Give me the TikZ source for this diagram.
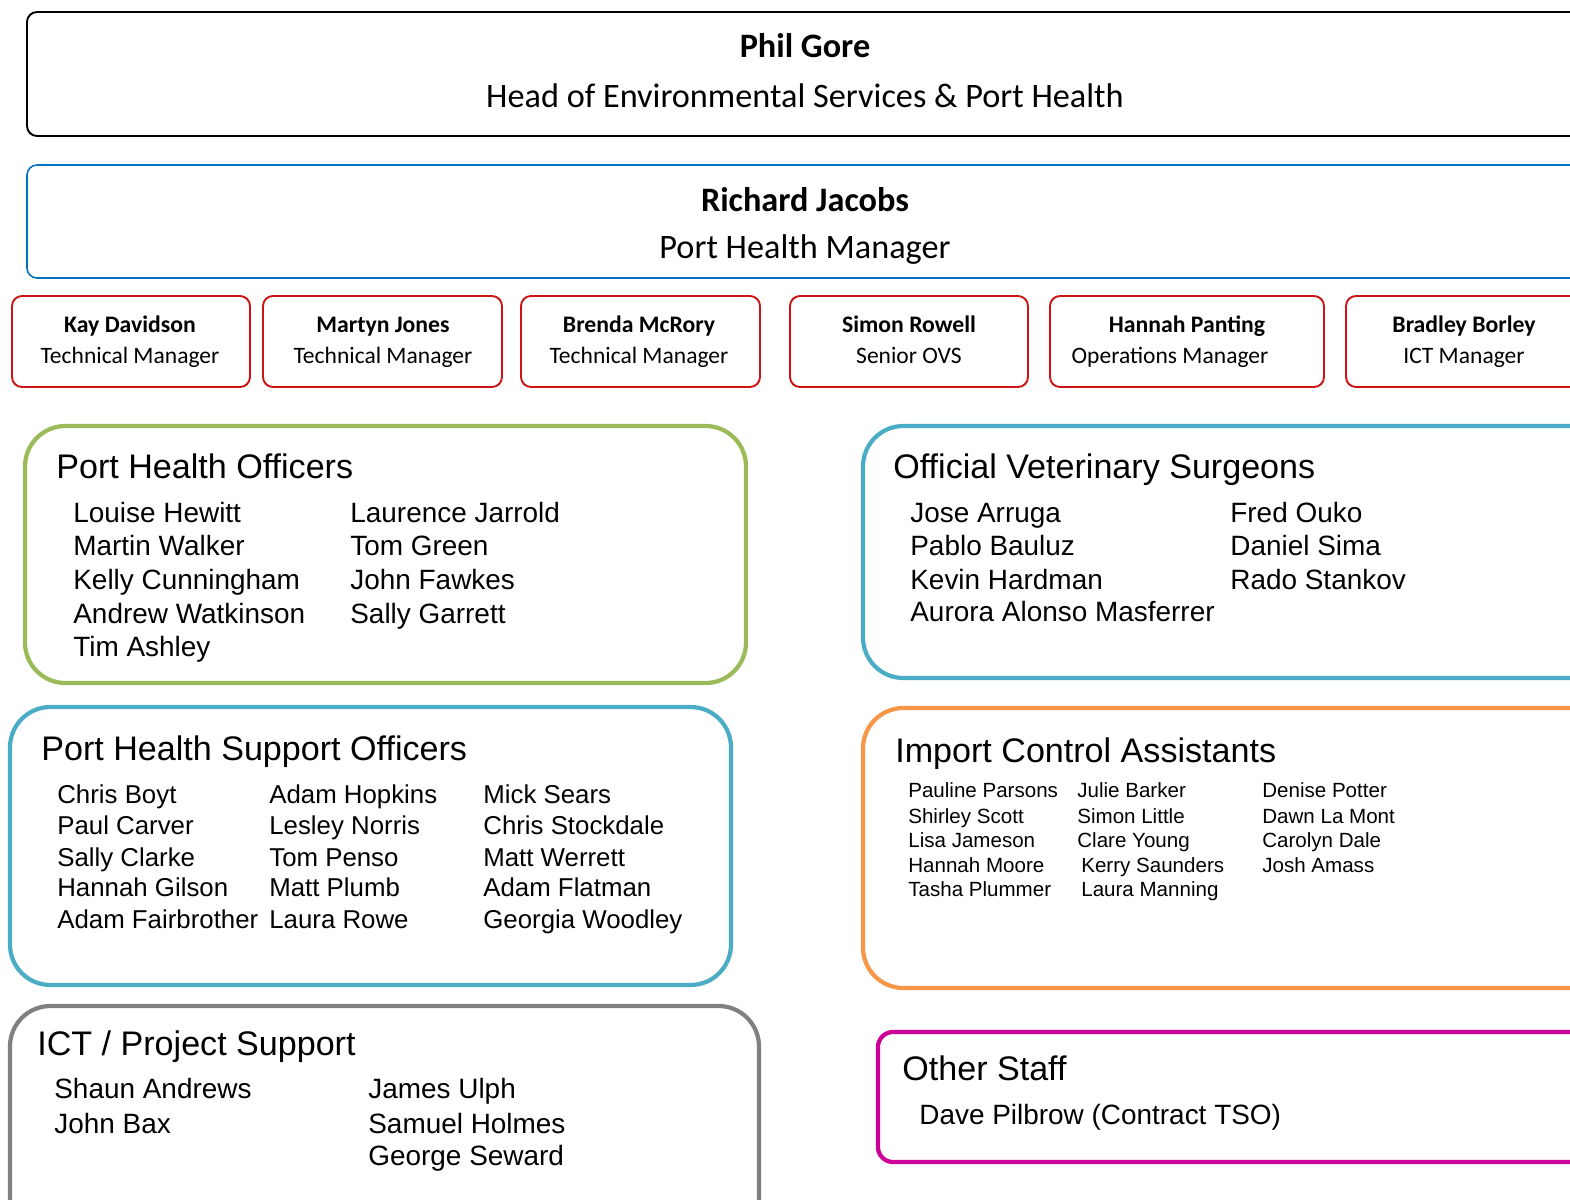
\documentclass[tikz,border=0pt]{standalone}
\usepackage{fontspec}
\setmainfont{Liberation Sans}
\newfontfamily\calibri{Carlito}

\definecolor{phmblue}{RGB}{0,112,192}
\definecolor{mgrred}{RGB}{204,20,20}
\definecolor{phogreen}{RGB}{155,187,89}
\definecolor{ovsblue}{RGB}{75,172,198}
\definecolor{icaorange}{RGB}{247,150,70}
\definecolor{ictgrey}{RGB}{128,128,128}
\definecolor{othermag}{RGB}{204,0,153}

\tikzset{
	topname/.style={font=\calibri\bfseries\fontsize{19.5}{23}\selectfont,inner sep=0pt,anchor=base},
	toptitle/.style={font=\calibri\fontsize{19.5}{23}\selectfont,inner sep=0pt,anchor=base},
	mgrname/.style={font=\calibri\bfseries\fontsize{13.5}{16}\selectfont,inner sep=0pt,anchor=base},
	mgrtitle/.style={font=\calibri\fontsize{13.4}{16}\selectfont,inner sep=0pt,anchor=base},
	grouphead/.style={font=\fontsize{19.4}{23}\selectfont,inner sep=0pt,anchor=base west},
	staff/.style={font=\fontsize{15.9}{19}\selectfont,inner sep=0pt,anchor=base west},
	groupbox/.style={line width=2.4pt,rounded corners=23pt}
}

\begin{document}
\begin{tikzpicture}[x=0.02cm,y=-0.02cm]
	\useasboundingbox (0,0) rectangle (1570,1200);
	\clip (0,0) rectangle (1570,1200);

	% heads
	\draw[black,line width=1.1pt,rounded corners=5.7pt] (27,12) rectangle (1620,136);
	\draw[phmblue,line width=0.9pt,rounded corners=5.7pt] (27,165) rectangle (1620,278);
	\node[topname] (gore) at (805,57) {Phil Gore};
	\node[toptitle] (goretitle) at (805,107) {Head of Environmental Services \& Port Health};
	\node[topname] (jacobs) at (805,211) {Richard Jacobs};
	\node[toptitle] (jacobstitle) at (805,258) {Port Health Manager};

	% managers
	\begin{scope}[mgrred,line width=1.1pt,rounded corners=5.7pt]
		\draw (12,296) rectangle (250,387);
		\draw (263,296) rectangle (502,387);
		\draw (521,296) rectangle (760,387);
		\draw (790,296) rectangle (1028,387);
		\draw (1050,296) rectangle (1324,387);
		\draw (1346,296) rectangle (1584,387);
	\end{scope}
	\node[mgrname] (kay) at (130,332) {Kay Davidson};
	\node[mgrtitle] (kaytitle) at (130,363) {Technical Manager};
	\node[mgrname] (martyn) at (383,332) {Martyn Jones};
	\node[mgrtitle] (martyntitle) at (383,363) {Technical Manager};
	\node[mgrname] (brenda) at (639,332) {Brenda McRory};
	\node[mgrtitle] (brendatitle) at (639,363) {Technical Manager};
	\node[mgrname] (simon) at (909,332) {Simon Rowell};
	\node[mgrtitle] (simontitle) at (909,363) {Senior OVS};
	\node[mgrname] (hannah) at (1187,332) {Hannah Panting};
	\node[mgrtitle] (hannahtitle) at (1170,363) {Operations Manager};
	\node[mgrname] (bradley) at (1464,332) {Bradley Borley};
	\node[mgrtitle] (bradleytitle) at (1464,363) {ICT Manager};

	% port health officers
	\draw[groupbox,phogreen] (25,426) rectangle (746,683);
	\node[grouphead] (pho) at (56,478) {Port Health Officers};
	\begin{scope}[every node/.style={staff}]
		\node (pho1) at (73,522) {Louise Hewitt};
		\node (pho2) at (73,555) {Martin Walker};
		\node (pho3) at (73,589) {Kelly Cunningham};
		\node (pho4) at (73,623) {Andrew Watkinson};
		\node (pho5) at (73,656) {Tim Ashley};
		\node (pho6) at (350,522) {Laurence Jarrold};
		\node (pho7) at (350,555) {Tom Green};
		\node (pho8) at (350,589) {John Fawkes};
		\node (pho9) at (350,623) {Sally Garrett};
	\end{scope}

	% official veterinary surgeons
	\draw[groupbox,ovsblue] (863,426) rectangle (1610,678);
	\node[grouphead] (ovs) at (893,478) {Official Veterinary Surgeons};
	\begin{scope}[every node/.style={staff}]
		\node (ovs1) at (910,522) {Jose Arruga};
		\node (ovs2) at (910,555) {Pablo Bauluz};
		\node (ovs3) at (910,589) {Kevin Hardman};
		\node (ovs4) at (910,621) {Aurora Alonso Masferrer};
		\node (ovs5) at (1230,522) {Fred Ouko};
		\node (ovs6) at (1230,555) {Daniel Sima};
		\node (ovs7) at (1230,589) {Rado Stankov};
	\end{scope}

	% port health support officers
	\draw[groupbox,ovsblue] (10,707) rectangle (731,985);
	\node[grouphead] (phso) at (41,760) {Port Health Support Officers};
	\begin{scope}[every node/.style={staff,font=\fontsize{14.7}{18}\selectfont}]
		\node (phso1) at (57,803) {Chris Boyt};
		\node (phso2) at (57,834) {Paul Carver};
		\node (phso3) at (57,866) {Sally Clarke};
		\node (phso4) at (57,896) {Hannah Gilson};
		\node (phso5) at (57,928) {Adam Fairbrother};
		\node (phso6) at (269,803) {Adam Hopkins};
		\node (phso7) at (269,834) {Lesley Norris};
		\node (phso8) at (269,866) {Tom Penso};
		\node (phso9) at (269,896) {Matt Plumb};
		\node (phso10) at (269,928) {Laura Rowe};
		\node (phso11) at (483,803) {Mick Sears};
		\node (phso12) at (483,834) {Chris Stockdale};
		\node (phso13) at (483,866) {Matt Werrett};
		\node (phso14) at (483,896) {Adam Flatman};
		\node (phso15) at (483,928) {Georgia Woodley};
	\end{scope}

	% import control assistants
	\draw[groupbox,icaorange] (863,708) rectangle (1610,988);
	\node[grouphead] (ica) at (895,762) {Import Control Assistants};
	\begin{scope}[every node/.style={staff,font=\fontsize{11.7}{14}\selectfont}]
		\node (ica1) at (908,797) {Pauline Parsons};
		\node (ica2) at (908,823) {Shirley Scott};
		\node (ica3) at (908,847) {Lisa Jameson};
		\node (ica4) at (908,872) {Hannah Moore};
		\node (ica5) at (908,896) {Tasha Plummer};
		\node (ica6) at (1077,797) {Julie Barker};
		\node (ica7) at (1077,823) {Simon Little};
		\node (ica8) at (1077,847) {Clare Young};
		\node (ica9) at (1081,872) {Kerry Saunders};
		\node (ica10) at (1081,896) {Laura Manning};
		\node (ica11) at (1262,797) {Denise Potter};
		\node (ica12) at (1262,823) {Dawn La Mont};
		\node (ica13) at (1262,847) {Carolyn Dale};
		\node (ica14) at (1262,872) {Josh Amass};
	\end{scope}

	% ict / project support
	\draw[groupbox,ictgrey] (10,1006) rectangle (759,1240);
	\node[grouphead] (ict) at (37,1055) {ICT / Project Support};
	\begin{scope}[every node/.style={staff}]
		\node (ict1) at (54,1098) {Shaun Andrews};
		\node (ict2) at (54,1133) {John Bax};
		\node (ict3) at (368,1098) {James Ulph};
		\node (ict4) at (368,1133) {Samuel Holmes};
		\node (ict5) at (368,1165) {George Seward};
	\end{scope}

	% other staff
	\draw[othermag,line width=2.4pt,rounded corners=8.5pt] (878,1032) rectangle (1610,1162);
	\node[grouphead] (other) at (902,1080) {Other Staff};
	\node[staff] (other1) at (919,1124) {Dave Pilbrow (Contract TSO)};
\end{tikzpicture}
\end{document}
